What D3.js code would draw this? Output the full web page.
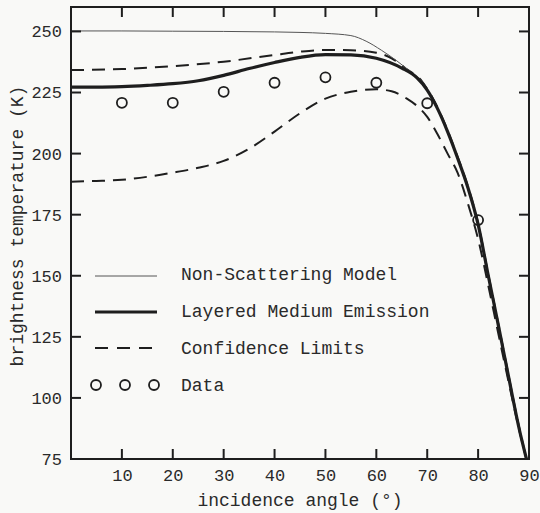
<!DOCTYPE html>
<html>
<head>
<meta charset="utf-8">
<script src="https://cdn.jsdelivr.net/npm/d3@7"></script>
<style>
  body { margin: 0; background: #f9f9f7; }
  svg { display: block; }
  text { font-family: "Liberation Mono", "DejaVu Sans Mono", monospace; fill: #2a2a2a; }
</style>
</head>
<body>
<div id="chart"></div>
<script>
// incidence angle (deg) -> brightness temperature (K)
const nonScatterAngle = [0, 10, 20, 30, 40, 45, 50, 55, 58, 61, 64, 67, 69, 70.5, 72, 74, 76, 78, 80, 82, 84, 86, 88, 89.5];
const nonScatterTemp = [250.2, 250.2, 250.1, 250, 249.8, 249.6, 249.2, 248.3, 246, 242.3, 238, 233, 229.5, 224.5, 218.5, 209, 198, 186, 171, 150, 129.5, 108.5, 88, 75];

const layeredAngle = [0, 5, 10, 15, 20, 25, 30, 35, 40, 45, 50, 55, 60, 65, 68, 70, 72, 74, 76, 78, 80, 82, 84, 86, 88, 89.5];
const layeredTemp = [227.2, 227.2, 227.4, 227.9, 228.6, 229.8, 232, 234.8, 237.3, 239.4, 240.5, 240.4, 239, 235, 231, 226, 218.5, 209, 198, 186, 171, 150, 129.5, 108.5, 88, 75];

const upperAngle = [0, 10, 20, 30, 40, 45, 50, 55, 60, 63, 66, 69, 70, 72, 74, 76, 78, 80, 82, 84, 86, 88, 89.5];
const upperTemp = [234.2, 234.6, 235.8, 237.6, 240.4, 241.7, 242.4, 242.3, 241.3, 239, 234.5, 229.5, 226.5, 219, 209.5, 198.5, 186.5, 171.5, 150.5, 130, 109, 88.5, 75];

const lowerAngle = [0, 5, 10, 15, 20, 25, 30, 35, 40, 45, 50, 55, 60, 63, 66, 68, 70, 72, 74, 76, 78, 80, 82, 84, 86, 88, 89.5];
const lowerTemp = [188.5, 188.8, 189.3, 190.5, 192.2, 194.2, 197, 202, 209, 216.5, 222.5, 225.3, 226.3, 225.5, 222.5, 219.5, 215, 208, 200, 192, 179.5, 165, 146, 126, 106.5, 87.5, 75];

const dataAngle = [10, 20, 30, 40, 50, 60, 70, 80];
const dataTemp = [220.8, 220.8, 225.3, 229, 231.2, 229, 220.6, 172.8];

const xTicks = [10, 20, 30, 40, 50, 60, 70, 80, 90];
const yTicks = [75, 100, 125, 150, 175, 200, 225, 250];

const legendLabels = ["Non-Scattering Model", "Layered Medium Emission", "Confidence Limits", "Data"];

const drawChart = () => {
  const width = 540;
  const height = 513;
  const left = 71, right = 529, top = 7, bottom = 459;
  const ink = "#1e1e1e";

  const x = d3.scaleLinear().domain([0, 90]).range([left, right]);
  const y = d3.scaleLinear().domain([75, 260]).range([bottom, top]);

  const svg = d3
    .select("#chart")
    .append("svg")
    .attr("width", width)
    .attr("height", height);

  svg.append("defs")
    .append("clipPath")
    .attr("id", "plot")
    .append("rect")
    .attr("x", left)
    .attr("y", top)
    .attr("width", right - left)
    .attr("height", bottom - top);

  const pairs = (a, t) => a.map((d, i) => [d, t[i]]);
  const line = d3
    .line()
    .x(d => x(d[0]))
    .y(d => y(d[1]))
    .curve(d3.curveMonotoneX);

  const curves = svg.append("g").attr("clip-path", "url(#plot)");

  const series = [
    { pts: pairs(upperAngle, upperTemp), w: 2, dash: "13,8", color: ink },
    { pts: pairs(lowerAngle, lowerTemp), w: 2, dash: "13,8", color: ink },
    { pts: pairs(nonScatterAngle, nonScatterTemp), w: 1, dash: null, color: "#555" },
    { pts: pairs(layeredAngle, layeredTemp), w: 3.2, dash: null, color: ink }
  ];

  curves
    .selectAll("path")
    .data(series)
    .enter()
    .append("path")
    .attr("d", s => line(s.pts))
    .attr("fill", "none")
    .attr("stroke", s => s.color)
    .attr("stroke-width", s => s.w)
    .attr("stroke-dasharray", s => s.dash);

  svg
    .selectAll("circle.data")
    .data(pairs(dataAngle, dataTemp))
    .enter()
    .append("circle")
    .attr("class", "data")
    .attr("cx", d => x(d[0]))
    .attr("cy", d => y(d[1]))
    .attr("r", 5)
    .attr("fill", "none")
    .attr("stroke", ink)
    .attr("stroke-width", 1.8);

  // axes: ticks point inward on all four sides
  const tick = 10;
  const axisBottom = d3.axisBottom(x).tickValues(xTicks).tickSize(0).tickPadding(10);
  const axisLeft = d3.axisLeft(y).tickValues(yTicks).tickSize(0).tickPadding(9);

  const gx = svg.append("g").attr("transform", `translate(0,${bottom})`).call(axisBottom);
  gx.select(".domain").remove();
  gx.selectAll("text").attr("font-size", 17).attr("fill", "#2a2a2a").attr("font-family", "Liberation Mono");

  const gy = svg.append("g").attr("transform", `translate(${left},0)`).call(axisLeft);
  gy.select(".domain").remove();
  gy.selectAll("text").attr("font-size", 17).attr("fill", "#2a2a2a").attr("font-family", "Liberation Mono");

  const inner = xTicks.filter(v => v < 90);
  const innerY = yTicks.filter(v => v > 75);
  const ticks = svg.append("g").attr("stroke", ink).attr("stroke-width", 2);
  inner.forEach(v => {
    ticks.append("line").attr("x1", x(v)).attr("x2", x(v)).attr("y1", bottom).attr("y2", bottom - tick);
    ticks.append("line").attr("x1", x(v)).attr("x2", x(v)).attr("y1", top).attr("y2", top + tick);
  });
  innerY.forEach(v => {
    ticks.append("line").attr("x1", left).attr("x2", left + tick).attr("y1", y(v)).attr("y2", y(v));
    ticks.append("line").attr("x1", right).attr("x2", right - tick).attr("y1", y(v)).attr("y2", y(v));
  });

  svg.append("rect")
    .attr("x", left)
    .attr("y", top)
    .attr("width", right - left)
    .attr("height", bottom - top)
    .attr("fill", "none")
    .attr("stroke", ink)
    .attr("stroke-width", 2);

  svg.append("text")
    .attr("x", (left + right) / 2)
    .attr("y", 506)
    .attr("text-anchor", "middle")
    .attr("font-size", 18)
    .text("incidence angle (°)");

  svg.append("text")
    .attr("transform", `translate(23,${226}) rotate(-90)`)
    .attr("text-anchor", "middle")
    .attr("font-size", 18)
    .text("brightness temperature (K)");

  // legend
  const legend = svg.append("g");
  const rows = [280, 317, 354, 391];
  const x0 = 95, x1 = 157;
  legend.append("line").attr("x1", x0).attr("x2", x1).attr("y1", rows[0] - 4).attr("y2", rows[0] - 4)
    .attr("stroke", "#555").attr("stroke-width", 1);
  legend.append("line").attr("x1", x0).attr("x2", x1).attr("y1", rows[1] - 5).attr("y2", rows[1] - 5)
    .attr("stroke", ink).attr("stroke-width", 3.2);
  legend.append("line").attr("x1", x0).attr("x2", x1 - 3).attr("y1", rows[2] - 6).attr("y2", rows[2] - 6)
    .attr("stroke", ink).attr("stroke-width", 2).attr("stroke-dasharray", "13,9");
  [96, 125, 154].forEach(cx => {
    legend.append("circle").attr("cx", cx).attr("cy", rows[3] - 6).attr("r", 5)
      .attr("fill", "none").attr("stroke", ink).attr("stroke-width", 1.8);
  });

  legend
    .selectAll("text")
    .data(legendLabels)
    .enter()
    .append("text")
    .attr("x", 181)
    .attr("y", (d, i) => rows[i])
    .attr("font-size", 18)
    .text(d => d);
};

window.onload = drawChart;
</script>
</body>
</html>
